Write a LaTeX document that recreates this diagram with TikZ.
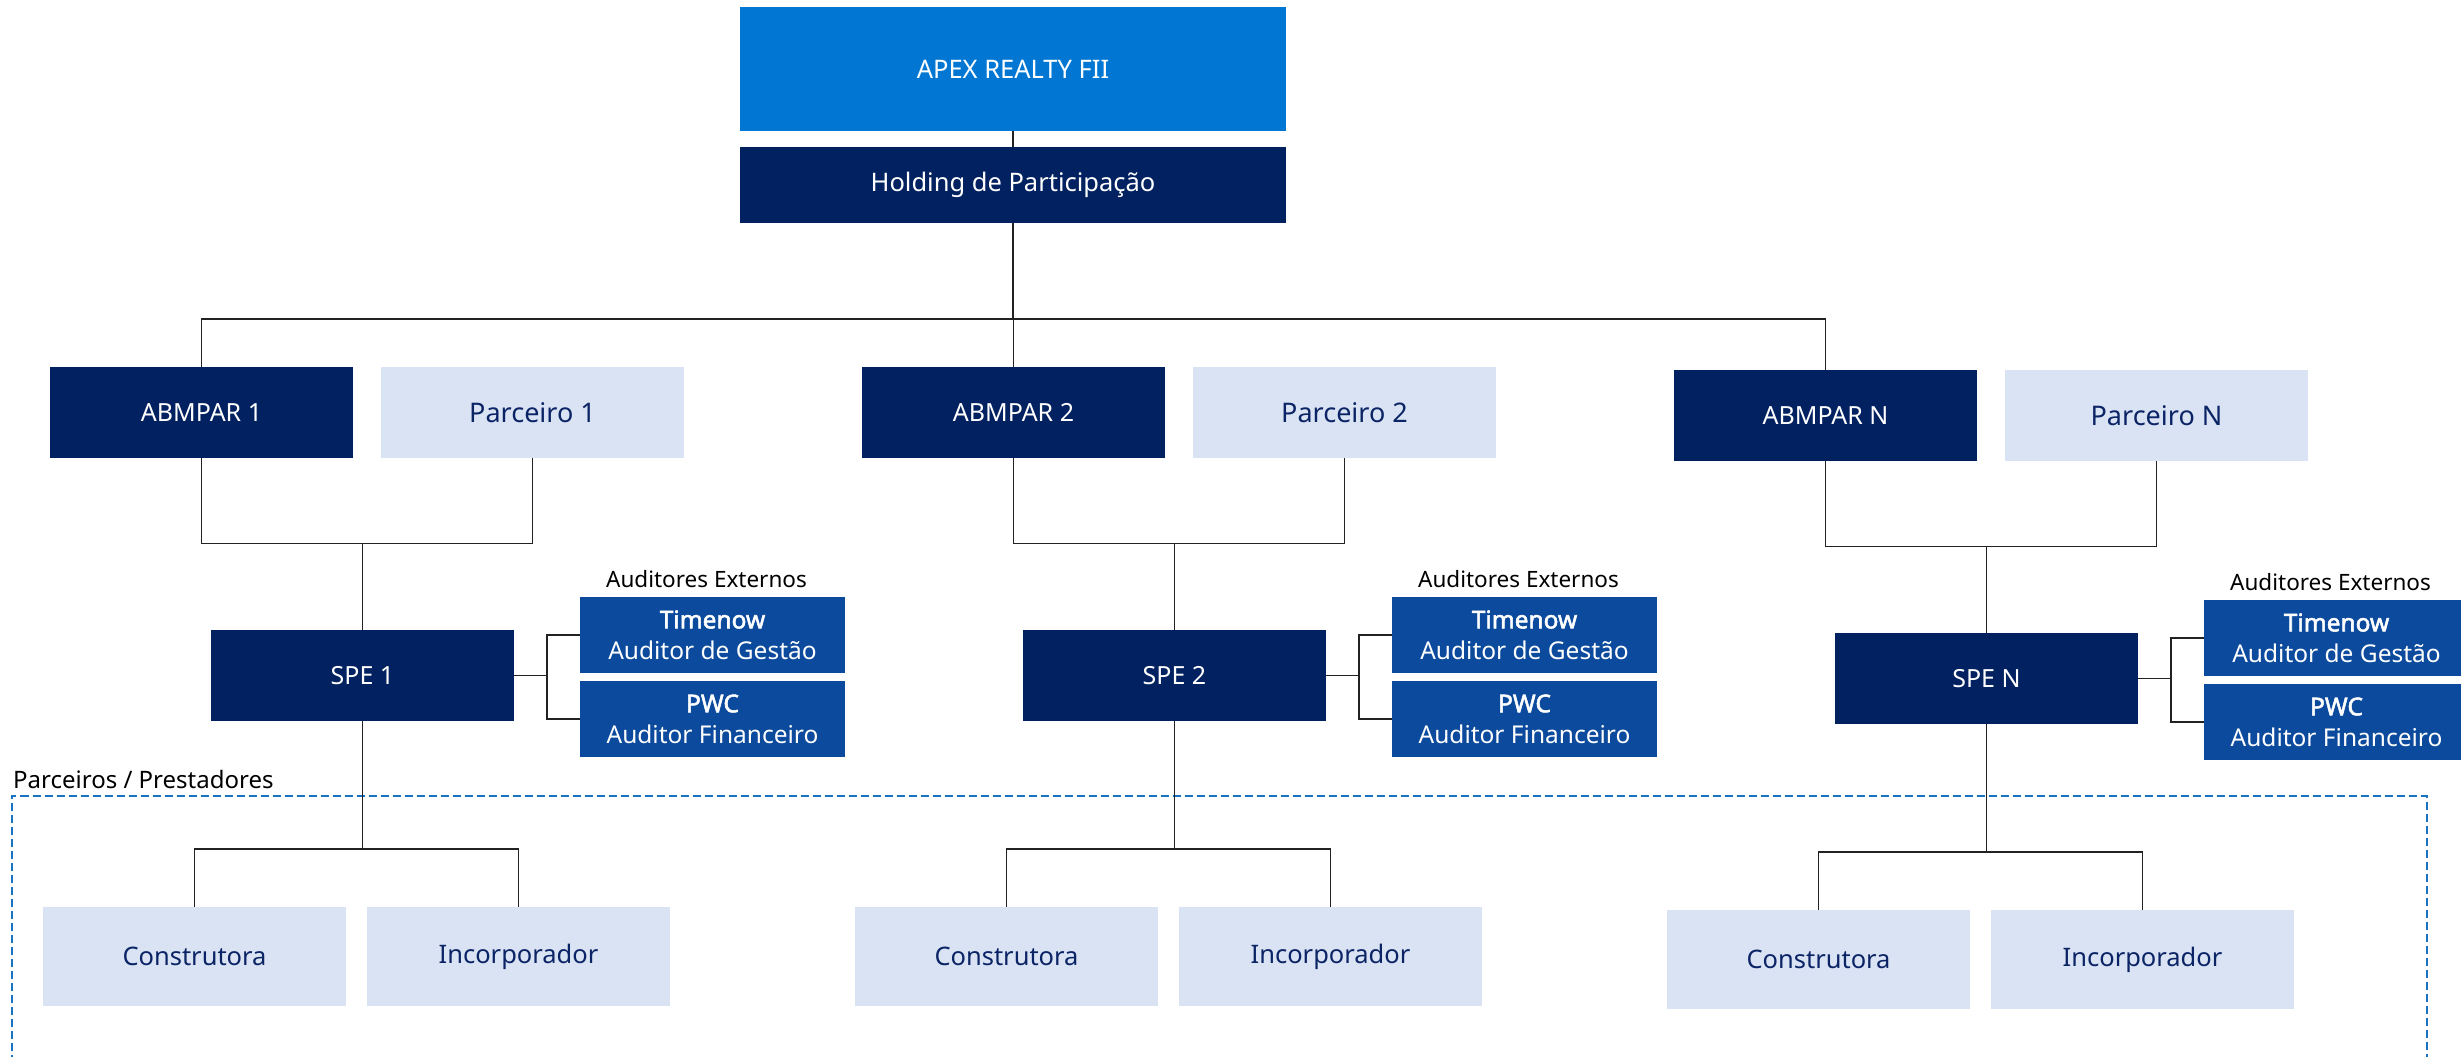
\documentclass[tikz,border=0pt]{standalone}
\usepackage{fontspec}
\setmainfont{Noto Sans}
\newfontfamily\boldnoto{Noto Sans}[FakeBold=2.2]
\definecolor{apexblue}{HTML}{0177D3}
\definecolor{navy}{HTML}{022160}
\definecolor{audblue}{HTML}{0B4A9C}
\definecolor{lightbox}{HTML}{DAE3F3}
\definecolor{lighttext}{HTML}{0B2466}
\definecolor{dashblue}{HTML}{1A72C2}
\definecolor{linec}{HTML}{222222}
\begin{document}
\begin{tikzpicture}[x=1pt,y=-1pt,
  box/.style={rectangle, inner sep=0pt, minimum width=303pt, minimum height=91pt},
  navybox/.style={box, fill=navy, text=white, font=\fontsize{25}{30}\selectfont},
  lightnode/.style={box, fill=lightbox, text=lighttext, font=\fontsize{27}{32}\selectfont},
  prestbox/.style={box, minimum height=99pt, fill=lightbox, text=lighttext, font=\fontsize{25.5}{30}\selectfont},
  audbox/.style={rectangle, inner sep=0pt, minimum width=265pt, minimum height=76pt, fill=audblue, text=white, align=center, font=\fontsize{24.5}{31}\selectfont},
  plainlabel/.style={inner sep=0pt, text=black, font=\fontsize{22.5}{27}\selectfont},
  link/.style={draw=linec, line width=1.4pt},
  dashframe/.style={draw=dashblue, line width=2pt, dash pattern=on 8pt off 4pt}
]
\useasboundingbox (0,0) rectangle (2461,1057);
\fill[white] (0,0) rectangle (2461,1057);

% dashed frame (drawn first, connectors go over it)
\draw[dashframe] (11.5,1075) -- (11.5,796) -- (2427,796) -- (2427,1075);
\node[plainlabel, anchor=west, font=\fontsize{24}{28}\selectfont] (prestlabel) at (13,779) {Parceiros / Prestadores};

% top
\node[rectangle, inner sep=0pt, minimum width=546pt, minimum height=124pt, fill=apexblue, text=white, font=\fontsize{25.5}{30}\selectfont] (apex) at (1013,69) {APEX REALTY FII};
\node[rectangle, inner sep=0pt, minimum width=546pt, minimum height=76pt, fill=navy, text=white, font=\fontsize{25.5}{30}\selectfont] (hold) at (1013,185) {Holding de Participação};
\coordinate (busy) at (0,319);

\foreach \i/\dx/\dy in {1/0/0, 2/812/0, N/1624/3}{
  \node[navybox] (abm\i) at (201.5+\dx, 412.5+\dy) {ABMPAR \i};
  \node[lightnode] (par\i) at (532.5+\dx, 412.5+\dy) {Parceiro \i};
  \node[navybox] (spe\i) at (362.5+\dx, 675.5+\dy) {SPE \i};
  \node[audbox] (tim\i) at (712.5+\dx, 635+\dy) {{\boldnoto Timenow}\\Auditor de Gestão};
  \node[audbox] (pwc\i) at (712.5+\dx, 719+\dy) {{\boldnoto PWC}\\Auditor Financeiro};
  \node[plainlabel] (ext\i) at (706.5+\dx, 579+\dy) {Auditores Externos};
  \node[prestbox] (con\i) at (194.5+\dx, 956.5+\dy) {Construtora};
  \node[prestbox] (inc\i) at (518.5+\dx, 956.5+\dy) {Incorporador};
  \coordinate (br\i) at (362.5+\dx, 543.5+\dy);
  \coordinate (jn\i) at (547+\dx, 675.5+\dy);
  \coordinate (bb\i) at (362.5+\dx, 849+\dy);
  \draw[link] (abm\i.south) |- (br\i) -| (par\i.south);
  \draw[link] (spe\i.north) -- (br\i);
  \draw[link] (spe\i.east) -- (jn\i);
  \draw[link] (tim\i.west) -| (jn\i) |- (pwc\i.west);
  \draw[link] (spe\i.south) -- (bb\i);
  \draw[link] (con\i.north) |- (bb\i) -| (inc\i.north);
}

\draw[link] (apex.south) -- (hold.north);
\draw[link] (hold.south) -- (hold.south |- busy);
\draw[link] (abm1.north) |- (abmN.north |- busy) -- (abmN.north);
\draw[link] (abm2.north) -- (abm2.north |- busy);
\end{tikzpicture}
\end{document}
